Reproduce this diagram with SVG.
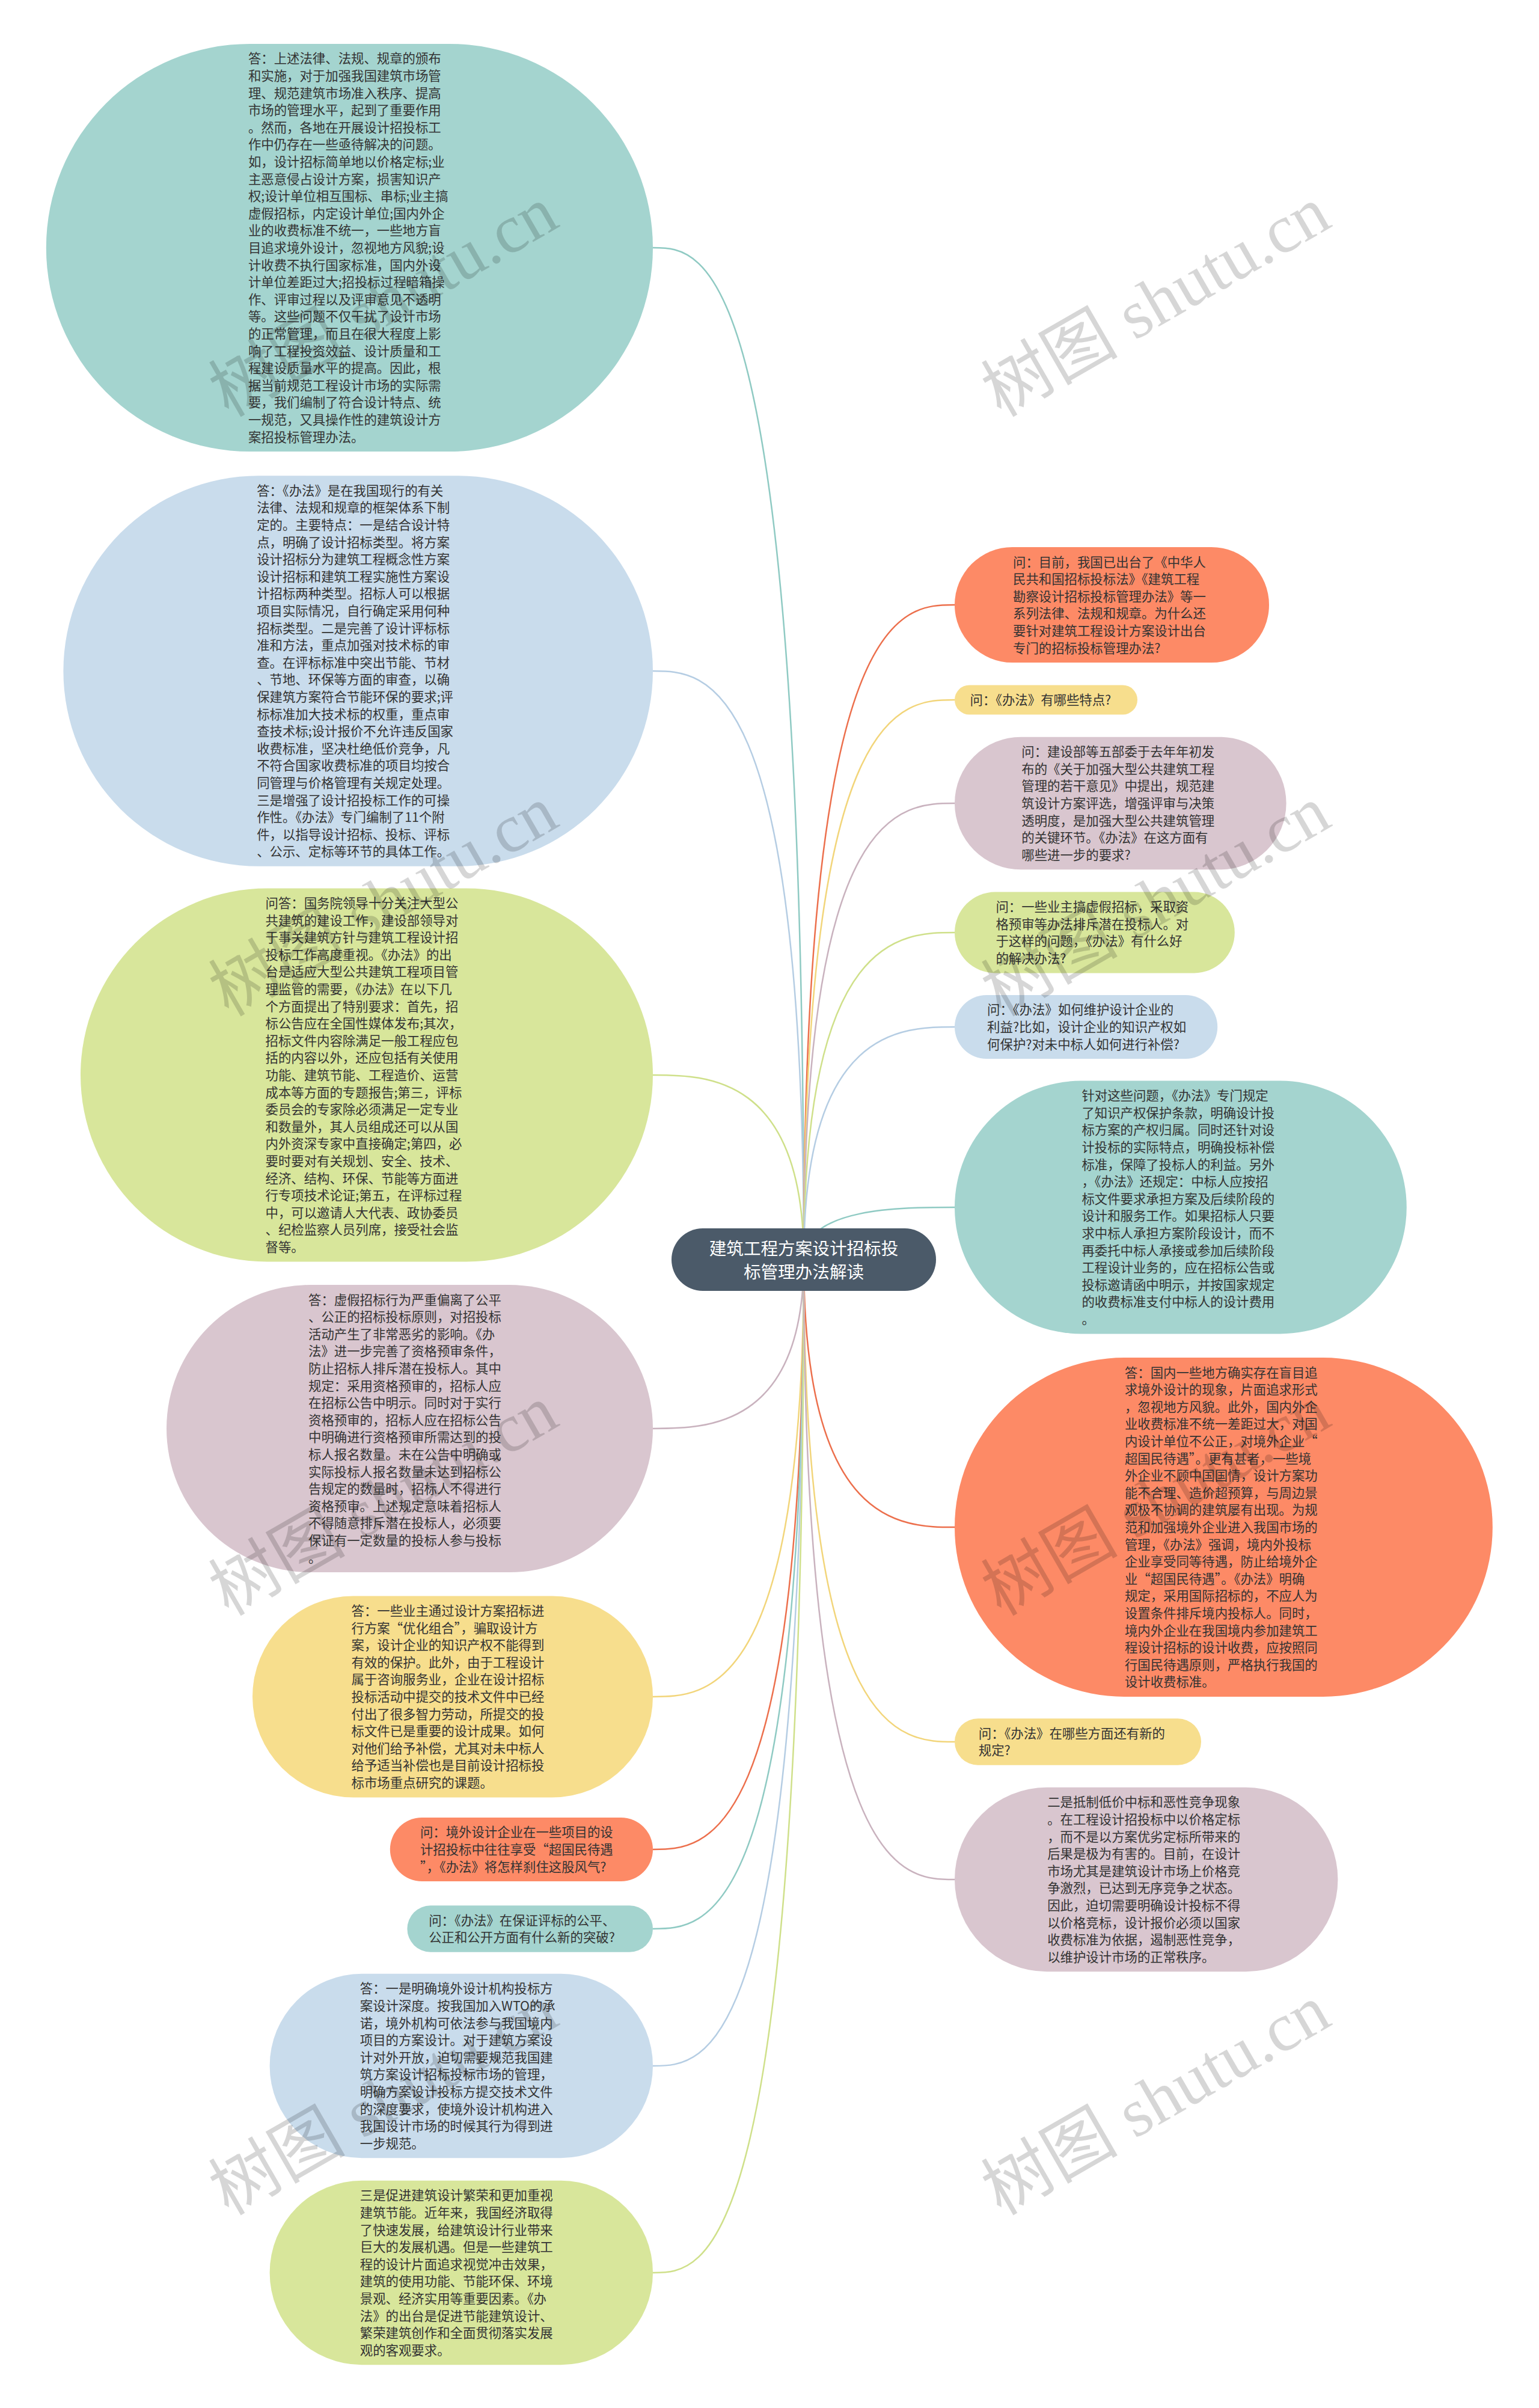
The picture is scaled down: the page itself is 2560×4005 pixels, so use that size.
<svg xmlns="http://www.w3.org/2000/svg" width="2560" height="4005" viewBox="0 0 2560 4005">
<style>
.t{font-family:"Noto Sans CJK SC","Liberation Sans",sans-serif;font-size:21.4px;fill:#333}
.rt{font-family:"Noto Sans CJK SC","Liberation Sans",sans-serif;font-size:28.6px;fill:#fff;text-anchor:middle}
#connectors path{fill:none;stroke-width:2.5}
.teal{fill:#a4d4cf}.blue{fill:#c9dcec}.green{fill:#d8e69b}.pink{fill:#d9c6cf}.yellow{fill:#f7de8d}.red{fill:#fd8a66}
.lteal{stroke:#8fcac3}.lblue{stroke:#b5cde3}.lgreen{stroke:#cfe08a}.lpink{stroke:#c9b2be}.lyellow{stroke:#f2d57a}.lred{stroke:#ec6f4c}
.wm{font-family:"Liberation Serif","Noto Sans CJK SC",serif;font-size:114px;fill:#000;fill-opacity:0.16}
</style>
<rect x="0" y="0" width="2560" height="4005" fill="#ffffff"/>
<g id="connectors">
<path class="lteal" d="M1337 2095 C1337 412 1173.9 412 1086 412"/>
<path class="lblue" d="M1337 2095 C1337 1116 1173.9 1116 1086 1116"/>
<path class="lgreen" d="M1337 2095 C1337 1788 1173.9 1788 1086 1788"/>
<path class="lpink" d="M1337 2095 C1337 2376 1173.9 2376 1086 2376"/>
<path class="lyellow" d="M1337 2095 C1337 2822 1173.9 2822 1086 2822"/>
<path class="lred" d="M1337 2095 C1337 3076 1173.9 3076 1086 3076"/>
<path class="lteal" d="M1337 2095 C1337 3208 1173.9 3208 1086 3208"/>
<path class="lblue" d="M1337 2095 C1337 3436 1173.9 3436 1086 3436"/>
<path class="lgreen" d="M1337 2095 C1337 3780 1173.9 3780 1086 3780"/>
<path class="lred" d="M1337 2095 C1337 1006 1500.2 1006 1588 1006"/>
<path class="lyellow" d="M1337 2095 C1337 1164 1500.2 1164 1588 1164"/>
<path class="lpink" d="M1337 2095 C1337 1336 1500.2 1336 1588 1336"/>
<path class="lgreen" d="M1337 2095 C1337 1551 1500.2 1551 1588 1551"/>
<path class="lblue" d="M1337 2095 C1337 1708 1500.2 1708 1588 1708"/>
<path class="lteal" d="M1337 2095 C1337 2008 1500.2 2008 1588 2008"/>
<path class="lred" d="M1337 2095 C1337 2540 1500.2 2540 1588 2540"/>
<path class="lyellow" d="M1337 2095 C1337 2897 1500.2 2897 1588 2897"/>
<path class="lpink" d="M1337 2095 C1337 3126 1500.2 3126 1588 3126"/>
</g>
<g id="node-l1">
<rect class="teal" x="76.8" y="72.9" width="1009.2" height="678.2" rx="339.1"/>
<text class="t" y="105.4"><tspan x="412.9">答：上述法律、法规、规章的颁布</tspan><tspan x="412.9" dy="28.6">和实施，对于加强我国建筑市场管</tspan><tspan x="412.9" dy="28.6">理、规范建筑市场准入秩序、提高</tspan><tspan x="412.9" dy="28.6">市场的管理水平，起到了重要作用</tspan><tspan x="412.9" dy="28.6">。然而，各地在开展设计招投标工</tspan><tspan x="412.9" dy="28.6">作中仍存在一些亟待解决的问题。</tspan><tspan x="412.9" dy="28.6">如，设计招标简单地以价格定标;业</tspan><tspan x="412.9" dy="28.6">主恶意侵占设计方案，损害知识产</tspan><tspan x="412.9" dy="28.6">权;设计单位相互围标、串标;业主搞</tspan><tspan x="412.9" dy="28.6">虚假招标，内定设计单位;国内外企</tspan><tspan x="412.9" dy="28.6">业的收费标准不统一，一些地方盲</tspan><tspan x="412.9" dy="28.6">目追求境外设计，忽视地方风貌;设</tspan><tspan x="412.9" dy="28.6">计收费不执行国家标准，国内外设</tspan><tspan x="412.9" dy="28.6">计单位差距过大;招投标过程暗箱操</tspan><tspan x="412.9" dy="28.6">作、评审过程以及评审意见不透明</tspan><tspan x="412.9" dy="28.6">等。这些问题不仅干扰了设计市场</tspan><tspan x="412.9" dy="28.6">的正常管理，而且在很大程度上影</tspan><tspan x="412.9" dy="28.6">响了工程投资效益、设计质量和工</tspan><tspan x="412.9" dy="28.6">程建设质量水平的提高。因此，根</tspan><tspan x="412.9" dy="28.6">据当前规范工程设计市场的实际需</tspan><tspan x="412.9" dy="28.6">要，我们编制了符合设计特点、统</tspan><tspan x="412.9" dy="28.6">一规范，又具操作性的建筑设计方</tspan><tspan x="412.9" dy="28.6">案招投标管理办法。</tspan></text>
</g>
<g id="node-l2">
<rect class="blue" x="105.4" y="791.2" width="980.6" height="649.6" rx="324.8"/>
<text class="t" y="823.7"><tspan x="427.2">答：《办法》是在我国现行的有关</tspan><tspan x="427.2" dy="28.6">法律、法规和规章的框架体系下制</tspan><tspan x="427.2" dy="28.6">定的。主要特点：一是结合设计特</tspan><tspan x="427.2" dy="28.6">点，明确了设计招标类型。将方案</tspan><tspan x="427.2" dy="28.6">设计招标分为建筑工程概念性方案</tspan><tspan x="427.2" dy="28.6">设计招标和建筑工程实施性方案设</tspan><tspan x="427.2" dy="28.6">计招标两种类型。招标人可以根据</tspan><tspan x="427.2" dy="28.6">项目实际情况，自行确定采用何种</tspan><tspan x="427.2" dy="28.6">招标类型。二是完善了设计评标标</tspan><tspan x="427.2" dy="28.6">准和方法，重点加强对技术标的审</tspan><tspan x="427.2" dy="28.6">查。在评标标准中突出节能、节材</tspan><tspan x="427.2" dy="28.6">、节地、环保等方面的审查，以确</tspan><tspan x="427.2" dy="28.6">保建筑方案符合节能环保的要求;评</tspan><tspan x="427.2" dy="28.6">标标准加大技术标的权重，重点审</tspan><tspan x="427.2" dy="28.6">查技术标;设计报价不允许违反国家</tspan><tspan x="427.2" dy="28.6">收费标准，坚决杜绝低价竞争，凡</tspan><tspan x="427.2" dy="28.6">不符合国家收费标准的项目均按合</tspan><tspan x="427.2" dy="28.6">同管理与价格管理有关规定处理。</tspan><tspan x="427.2" dy="28.6">三是增强了设计招投标工作的可操</tspan><tspan x="427.2" dy="28.6">作性。《办法》专门编制了11个附</tspan><tspan x="427.2" dy="28.6">件，以指导设计招标、投标、评标</tspan><tspan x="427.2" dy="28.6">、公示、定标等环节的具体工作。</tspan></text>
</g>
<g id="node-l3">
<rect class="green" x="134" y="1477.5" width="952" height="621" rx="310.5"/>
<text class="t" y="1510"><tspan x="441.5">问答：国务院领导十分关注大型公</tspan><tspan x="441.5" dy="28.6">共建筑的建设工作，建设部领导对</tspan><tspan x="441.5" dy="28.6">于事关建筑方针与建筑工程设计招</tspan><tspan x="441.5" dy="28.6">投标工作高度重视。《办法》的出</tspan><tspan x="441.5" dy="28.6">台是适应大型公共建筑工程项目管</tspan><tspan x="441.5" dy="28.6">理监管的需要，《办法》在以下几</tspan><tspan x="441.5" dy="28.6">个方面提出了特别要求：首先，招</tspan><tspan x="441.5" dy="28.6">标公告应在全国性媒体发布;其次，</tspan><tspan x="441.5" dy="28.6">招标文件内容除满足一般工程应包</tspan><tspan x="441.5" dy="28.6">括的内容以外，还应包括有关使用</tspan><tspan x="441.5" dy="28.6">功能、建筑节能、工程造价、运营</tspan><tspan x="441.5" dy="28.6">成本等方面的专题报告;第三，评标</tspan><tspan x="441.5" dy="28.6">委员会的专家除必须满足一定专业</tspan><tspan x="441.5" dy="28.6">和数量外，其人员组成还可以从国</tspan><tspan x="441.5" dy="28.6">内外资深专家中直接确定;第四，必</tspan><tspan x="441.5" dy="28.6">要时要对有关规划、安全、技术、</tspan><tspan x="441.5" dy="28.6">经济、结构、环保、节能等方面进</tspan><tspan x="441.5" dy="28.6">行专项技术论证;第五，在评标过程</tspan><tspan x="441.5" dy="28.6">中，可以邀请人大代表、政协委员</tspan><tspan x="441.5" dy="28.6">、纪检监察人员列席，接受社会监</tspan><tspan x="441.5" dy="28.6">督等。</tspan></text>
</g>
<g id="node-l4">
<rect class="pink" x="277" y="2137" width="809" height="478" rx="239"/>
<text class="t" y="2169.5"><tspan x="513">答：虚假招标行为严重偏离了公平</tspan><tspan x="513" dy="28.6">、公正的招标投标原则，对招投标</tspan><tspan x="513" dy="28.6">活动产生了非常恶劣的影响。《办</tspan><tspan x="513" dy="28.6">法》进一步完善了资格预审条件，</tspan><tspan x="513" dy="28.6">防止招标人排斥潜在投标人。其中</tspan><tspan x="513" dy="28.6">规定：采用资格预审的，招标人应</tspan><tspan x="513" dy="28.6">在招标公告中明示。同时对于实行</tspan><tspan x="513" dy="28.6">资格预审的，招标人应在招标公告</tspan><tspan x="513" dy="28.6">中明确进行资格预审所需达到的投</tspan><tspan x="513" dy="28.6">标人报名数量。未在公告中明确或</tspan><tspan x="513" dy="28.6">实际投标人报名数量未达到招标公</tspan><tspan x="513" dy="28.6">告规定的数量时，招标人不得进行</tspan><tspan x="513" dy="28.6">资格预审。上述规定意味着招标人</tspan><tspan x="513" dy="28.6">不得随意排斥潜在投标人，必须要</tspan><tspan x="513" dy="28.6">保证有一定数量的投标人参与投标</tspan><tspan x="513" dy="28.6">。</tspan></text>
</g>
<g id="node-l5">
<rect class="yellow" x="420" y="2654.5" width="666" height="335" rx="167.5"/>
<text class="t" y="2687"><tspan x="584.5">答：一些业主通过设计方案招标进</tspan><tspan x="584.5" dy="28.6">行方案“优化组合”，骗取设计方</tspan><tspan x="584.5" dy="28.6">案，设计企业的知识产权不能得到</tspan><tspan x="584.5" dy="28.6">有效的保护。此外，由于工程设计</tspan><tspan x="584.5" dy="28.6">属于咨询服务业，企业在设计招标</tspan><tspan x="584.5" dy="28.6">投标活动中提交的技术文件中已经</tspan><tspan x="584.5" dy="28.6">付出了很多智力劳动，所提交的投</tspan><tspan x="584.5" dy="28.6">标文件已是重要的设计成果。如何</tspan><tspan x="584.5" dy="28.6">对他们给予补偿，尤其对未中标人</tspan><tspan x="584.5" dy="28.6">给予适当补偿也是目前设计招标投</tspan><tspan x="584.5" dy="28.6">标市场重点研究的课题。</tspan></text>
</g>
<g id="node-l6">
<rect class="red" x="648.8" y="3022.9" width="437.2" height="106.2" rx="53.1"/>
<text class="t" y="3055.4"><tspan x="698.9">问：境外设计企业在一些项目的设</tspan><tspan x="698.9" dy="28.6">计招投标中往往享受“超国民待遇</tspan><tspan x="698.9" dy="28.6">”，《办法》将怎样刹住这股风气?</tspan></text>
</g>
<g id="node-l7">
<rect class="teal" x="677.4" y="3169.2" width="408.6" height="77.6" rx="38.8"/>
<text class="t" y="3201.7"><tspan x="713.2">问：《办法》在保证评标的公平、</tspan><tspan x="713.2" dy="28.6">公正和公开方面有什么新的突破?</tspan></text>
</g>
<g id="node-l8">
<rect class="blue" x="448.6" y="3282.8" width="637.4" height="306.4" rx="153.2"/>
<text class="t" y="3315.3"><tspan x="598.8">答：一是明确境外设计机构投标方</tspan><tspan x="598.8" dy="28.6">案设计深度。按我国加入WTO的承</tspan><tspan x="598.8" dy="28.6">诺，境外机构可依法参与我国境内</tspan><tspan x="598.8" dy="28.6">项目的方案设计。对于建筑方案设</tspan><tspan x="598.8" dy="28.6">计对外开放，迫切需要规范我国建</tspan><tspan x="598.8" dy="28.6">筑方案设计招标投标市场的管理，</tspan><tspan x="598.8" dy="28.6">明确方案设计投标方提交技术文件</tspan><tspan x="598.8" dy="28.6">的深度要求，使境外设计机构进入</tspan><tspan x="598.8" dy="28.6">我国设计市场的时候其行为得到进</tspan><tspan x="598.8" dy="28.6">一步规范。</tspan></text>
</g>
<g id="node-l9">
<rect class="green" x="448.6" y="3626.8" width="637.4" height="306.4" rx="153.2"/>
<text class="t" y="3659.3"><tspan x="598.8">三是促进建筑设计繁荣和更加重视</tspan><tspan x="598.8" dy="28.6">建筑节能。近年来，我国经济取得</tspan><tspan x="598.8" dy="28.6">了快速发展，给建筑设计行业带来</tspan><tspan x="598.8" dy="28.6">巨大的发展机遇。但是一些建筑工</tspan><tspan x="598.8" dy="28.6">程的设计片面追求视觉冲击效果，</tspan><tspan x="598.8" dy="28.6">建筑的使用功能、节能环保、环境</tspan><tspan x="598.8" dy="28.6">景观、经济实用等重要因素。《办</tspan><tspan x="598.8" dy="28.6">法》的出台是促进节能建筑设计、</tspan><tspan x="598.8" dy="28.6">繁荣建筑创作和全面贯彻落实发展</tspan><tspan x="598.8" dy="28.6">观的客观要求。</tspan></text>
</g>
<g id="node-r1">
<rect class="red" x="1588" y="910" width="523" height="192" rx="96"/>
<text class="t" y="942.5"><tspan x="1685">问：目前，我国已出台了《中华人</tspan><tspan x="1685" dy="28.6">民共和国招标投标法》《建筑工程</tspan><tspan x="1685" dy="28.6">勘察设计招标投标管理办法》等一</tspan><tspan x="1685" dy="28.6">系列法律、法规和规章。为什么还</tspan><tspan x="1685" dy="28.6">要针对建筑工程设计方案设计出台</tspan><tspan x="1685" dy="28.6">专门的招标投标管理办法?</tspan></text>
</g>
<g id="node-r2">
<rect class="yellow" x="1588" y="1139.5" width="304" height="49" rx="24.5"/>
<text class="t" y="1172"><tspan x="1613.5">问：《办法》有哪些特点?</tspan></text>
</g>
<g id="node-r3">
<rect class="pink" x="1588" y="1225.7" width="551.6" height="220.6" rx="110.3"/>
<text class="t" y="1258.2"><tspan x="1699.3">问：建设部等五部委于去年年初发</tspan><tspan x="1699.3" dy="28.6">布的《关于加强大型公共建筑工程</tspan><tspan x="1699.3" dy="28.6">管理的若干意见》中提出，规范建</tspan><tspan x="1699.3" dy="28.6">筑设计方案评选，增强评审与决策</tspan><tspan x="1699.3" dy="28.6">透明度，是加强大型公共建筑管理</tspan><tspan x="1699.3" dy="28.6">的关键环节。《办法》在这方面有</tspan><tspan x="1699.3" dy="28.6">哪些进一步的要求?</tspan></text>
</g>
<g id="node-r4">
<rect class="green" x="1588" y="1483.6" width="465.8" height="134.8" rx="67.4"/>
<text class="t" y="1516.1"><tspan x="1656.4">问：一些业主搞虚假招标，采取资</tspan><tspan x="1656.4" dy="28.6">格预审等办法排斥潜在投标人。对</tspan><tspan x="1656.4" dy="28.6">于这样的问题，《办法》有什么好</tspan><tspan x="1656.4" dy="28.6">的解决办法?</tspan></text>
</g>
<g id="node-r5">
<rect class="blue" x="1588" y="1654.9" width="437.2" height="106.2" rx="53.1"/>
<text class="t" y="1687.4"><tspan x="1642.1">问：《办法》如何维护设计企业的</tspan><tspan x="1642.1" dy="28.6">利益?比如，设计企业的知识产权如</tspan><tspan x="1642.1" dy="28.6">何保护?对未中标人如何进行补偿?</tspan></text>
</g>
<g id="node-r6">
<rect class="teal" x="1588" y="1797.6" width="751.8" height="420.8" rx="210.4"/>
<text class="t" y="1830.1"><tspan x="1799.4">针对这些问题，《办法》专门规定</tspan><tspan x="1799.4" dy="28.6">了知识产权保护条款，明确设计投</tspan><tspan x="1799.4" dy="28.6">标方案的产权归属。同时还针对设</tspan><tspan x="1799.4" dy="28.6">计投标的实际特点，明确投标补偿</tspan><tspan x="1799.4" dy="28.6">标准，保障了投标人的利益。另外</tspan><tspan x="1799.4" dy="28.6">，《办法》还规定：中标人应按招</tspan><tspan x="1799.4" dy="28.6">标文件要求承担方案及后续阶段的</tspan><tspan x="1799.4" dy="28.6">设计和服务工作。如果招标人只要</tspan><tspan x="1799.4" dy="28.6">求中标人承担方案阶段设计，而不</tspan><tspan x="1799.4" dy="28.6">再委托中标人承接或参加后续阶段</tspan><tspan x="1799.4" dy="28.6">工程设计业务的，应在招标公告或</tspan><tspan x="1799.4" dy="28.6">投标邀请函中明示，并按国家规定</tspan><tspan x="1799.4" dy="28.6">的收费标准支付中标人的设计费用</tspan><tspan x="1799.4" dy="28.6">。</tspan></text>
</g>
<g id="node-r7">
<rect class="red" x="1588" y="2258.1" width="894.8" height="563.8" rx="281.9"/>
<text class="t" y="2290.6"><tspan x="1870.9">答：国内一些地方确实存在盲目追</tspan><tspan x="1870.9" dy="28.6">求境外设计的现象，片面追求形式</tspan><tspan x="1870.9" dy="28.6">，忽视地方风貌。此外，国内外企</tspan><tspan x="1870.9" dy="28.6">业收费标准不统一差距过大，对国</tspan><tspan x="1870.9" dy="28.6">内设计单位不公正，对境外企业“</tspan><tspan x="1870.9" dy="28.6">超国民待遇”。更有甚者，一些境</tspan><tspan x="1870.9" dy="28.6">外企业不顾中国国情，设计方案功</tspan><tspan x="1870.9" dy="28.6">能不合理、造价超预算，与周边景</tspan><tspan x="1870.9" dy="28.6">观极不协调的建筑屡有出现。为规</tspan><tspan x="1870.9" dy="28.6">范和加强境外企业进入我国市场的</tspan><tspan x="1870.9" dy="28.6">管理，《办法》强调，境内外投标</tspan><tspan x="1870.9" dy="28.6">企业享受同等待遇，防止给境外企</tspan><tspan x="1870.9" dy="28.6">业“超国民待遇”。《办法》明确</tspan><tspan x="1870.9" dy="28.6">规定，采用国际招标的，不应人为</tspan><tspan x="1870.9" dy="28.6">设置条件排斥境内投标人。同时，</tspan><tspan x="1870.9" dy="28.6">境内外企业在我国境内参加建筑工</tspan><tspan x="1870.9" dy="28.6">程设计招标的设计收费，应按照同</tspan><tspan x="1870.9" dy="28.6">行国民待遇原则，严格执行我国的</tspan><tspan x="1870.9" dy="28.6">设计收费标准。</tspan></text>
</g>
<g id="node-r8">
<rect class="yellow" x="1588" y="2858.2" width="410" height="77.6" rx="38.8"/>
<text class="t" y="2890.7"><tspan x="1627.8">问：《办法》在哪些方面还有新的</tspan><tspan x="1627.8" dy="28.6">规定?</tspan></text>
</g>
<g id="node-r9">
<rect class="pink" x="1588" y="2972.8" width="637.4" height="306.4" rx="153.2"/>
<text class="t" y="3005.3"><tspan x="1742.2">二是抵制低价中标和恶性竞争现象</tspan><tspan x="1742.2" dy="28.6">。在工程设计招投标中以价格定标</tspan><tspan x="1742.2" dy="28.6">，而不是以方案优劣定标所带来的</tspan><tspan x="1742.2" dy="28.6">后果是极为有害的。目前，在设计</tspan><tspan x="1742.2" dy="28.6">市场尤其是建筑设计市场上价格竞</tspan><tspan x="1742.2" dy="28.6">争激烈，已达到无序竞争之状态。</tspan><tspan x="1742.2" dy="28.6">因此，迫切需要明确设计投标不得</tspan><tspan x="1742.2" dy="28.6">以价格竞标，设计报价必须以国家</tspan><tspan x="1742.2" dy="28.6">收费标准为依据，遏制恶性竞争，</tspan><tspan x="1742.2" dy="28.6">以维护设计市场的正常秩序。</tspan></text>
</g>
<g id="root">
<rect x="1117" y="2043" width="440" height="104" rx="52" fill="#4b5a69"/>
<text class="rt" x="1337" y="2087">建筑工程方案设计招标投</text>
<text class="rt" x="1337" y="2126">标管理办法解读</text>
</g>
<g id="watermarks">
<text class="wm" x="380" y="695" transform="rotate(-30 380 695)">树图 shutu.cn</text>
<text class="wm" x="1665" y="695" transform="rotate(-30 1665 695)">树图 shutu.cn</text>
<text class="wm" x="380" y="1692" transform="rotate(-30 380 1692)">树图 shutu.cn</text>
<text class="wm" x="1665" y="1692" transform="rotate(-30 1665 1692)">树图 shutu.cn</text>
<text class="wm" x="380" y="2689" transform="rotate(-30 380 2689)">树图 shutu.cn</text>
<text class="wm" x="1665" y="2689" transform="rotate(-30 1665 2689)">树图 shutu.cn</text>
<text class="wm" x="380" y="3686" transform="rotate(-30 380 3686)">树图 shutu.cn</text>
<text class="wm" x="1665" y="3686" transform="rotate(-30 1665 3686)">树图 shutu.cn</text>
</g>
</svg>
